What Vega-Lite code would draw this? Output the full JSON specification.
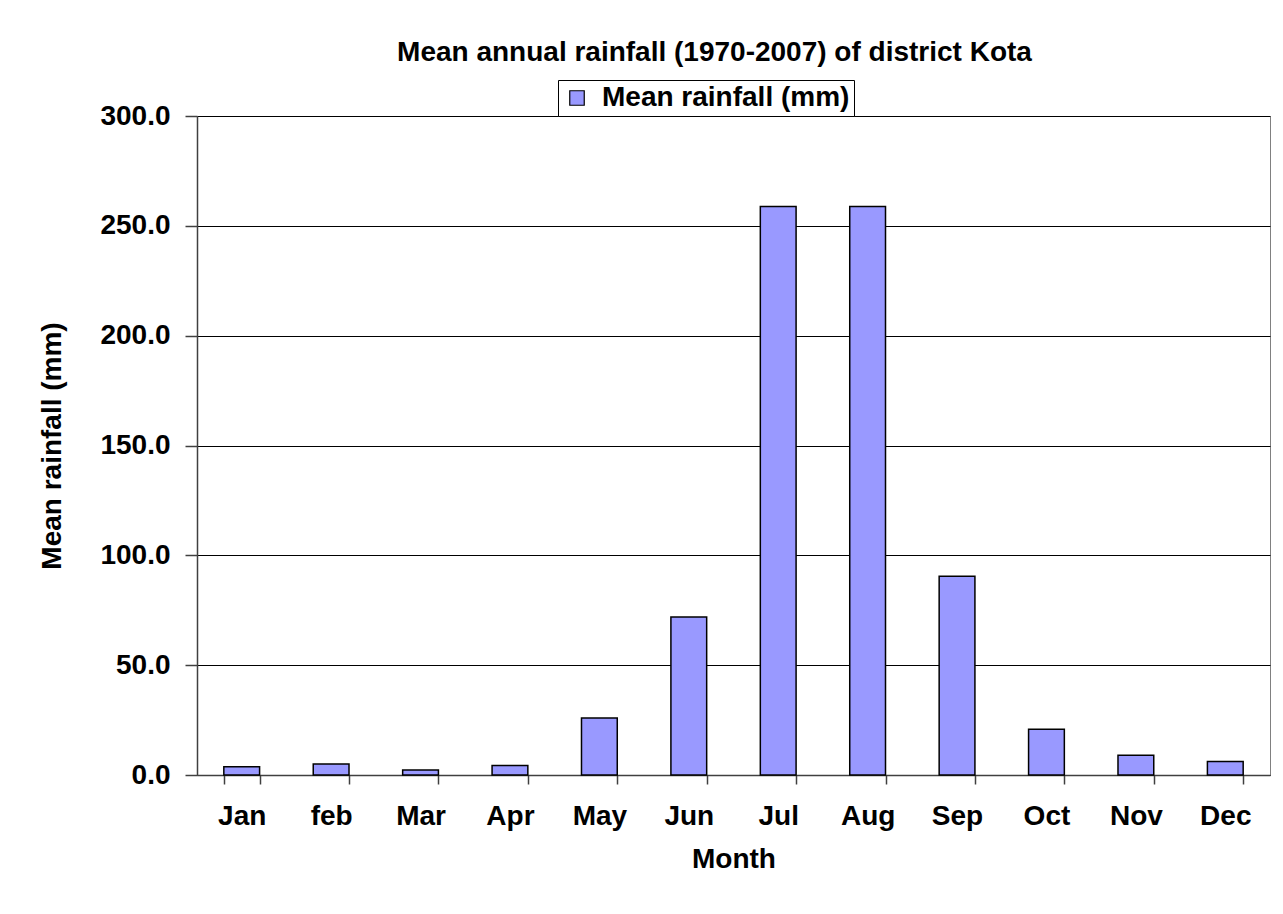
{
  "$schema": "https://vega.github.io/schema/vega-lite/v6.json",
  "autosize": "none",
  "width": 1073,
  "height": 659,
  "padding": {"left": 197, "top": 116, "right": 13, "bottom": 139},
  "background": "white",
  "title": {
    "text": "Mean annual rainfall (1970-2007) of district Kota",
    "anchor": "middle",
    "dx": -19,
    "offset": 13,
    "font": "Liberation Sans",
    "fontSize": 28,
    "fontWeight": "bold",
    "color": "black"
  },
  "data": {
    "values": [
      {"Month": "Jan", "Series": "Mean rainfall (mm)", "Rainfall": 3.8},
      {"Month": "feb", "Series": "Mean rainfall (mm)", "Rainfall": 5.0},
      {"Month": "Mar", "Series": "Mean rainfall (mm)", "Rainfall": 2.3},
      {"Month": "Apr", "Series": "Mean rainfall (mm)", "Rainfall": 4.3},
      {"Month": "May", "Series": "Mean rainfall (mm)", "Rainfall": 26.0},
      {"Month": "Jun", "Series": "Mean rainfall (mm)", "Rainfall": 71.9},
      {"Month": "Jul", "Series": "Mean rainfall (mm)", "Rainfall": 258.8},
      {"Month": "Aug", "Series": "Mean rainfall (mm)", "Rainfall": 258.8},
      {"Month": "Sep", "Series": "Mean rainfall (mm)", "Rainfall": 90.5},
      {"Month": "Oct", "Series": "Mean rainfall (mm)", "Rainfall": 20.8},
      {"Month": "Nov", "Series": "Mean rainfall (mm)", "Rainfall": 9.0},
      {"Month": "Dec", "Series": "Mean rainfall (mm)", "Rainfall": 6.2}
    ]
  },
  "mark": {"type": "bar", "stroke": "black", "strokeWidth": 1.5},
  "encoding": {
    "x": {
      "field": "Month",
      "type": "nominal",
      "sort": null,
      "scale": {"paddingInner": 0.6, "paddingOuter": 0.3},
      "axis": {
        "title": "Month",
        "labelAngle": 0,
        "tickBand": "extent",
        "tickSize": 9,
        "tickColor": "#404040",
        "domainColor": "#404040",
        "labelPadding": 18,
        "titlePadding": 15
      }
    },
    "y": {
      "field": "Rainfall",
      "type": "quantitative",
      "scale": {"domain": [0, 300], "nice": false},
      "axis": {
        "title": "Mean rainfall (mm)",
        "values": [0, 50, 100, 150, 200, 250, 300],
        "format": ".1f",
        "grid": true,
        "gridColor": "black",
        "gridOpacity": 1,
        "tickSize": 12,
        "tickColor": "#404040",
        "domainColor": "#404040",
        "labelPadding": 15,
        "titlePadding": 33
      }
    },
    "color": {
      "field": "Series",
      "type": "nominal",
      "scale": {"range": ["#9999FF"]},
      "legend": {
        "title": null,
        "orient": "none",
        "legendX": 361,
        "legendY": -36,
        "strokeColor": "black",
        "padding": 4,
        "symbolType": "square",
        "symbolSize": 210,
        "symbolStrokeColor": "black",
        "symbolStrokeWidth": 1.2,
        "symbolOffset": 1,
        "labelOffset": 11,
        "labelLimit": 400,
        "labelFont": "Liberation Sans",
        "labelFontSize": 28,
        "labelFontWeight": "bold",
        "labelColor": "black",
        "fillColor": "white"
      }
    }
  },
  "config": {
    "view": {"stroke": "#808080", "strokeWidth": 1},
    "axis": {
      "labelFont": "Liberation Sans",
      "labelFontSize": 28,
      "labelFontWeight": "bold",
      "labelColor": "black",
      "titleFont": "Liberation Sans",
      "titleFontSize": 28,
      "titleFontWeight": "bold",
      "titleColor": "black",
      "domainWidth": 1.5,
      "tickWidth": 1.5
    }
  }
}
